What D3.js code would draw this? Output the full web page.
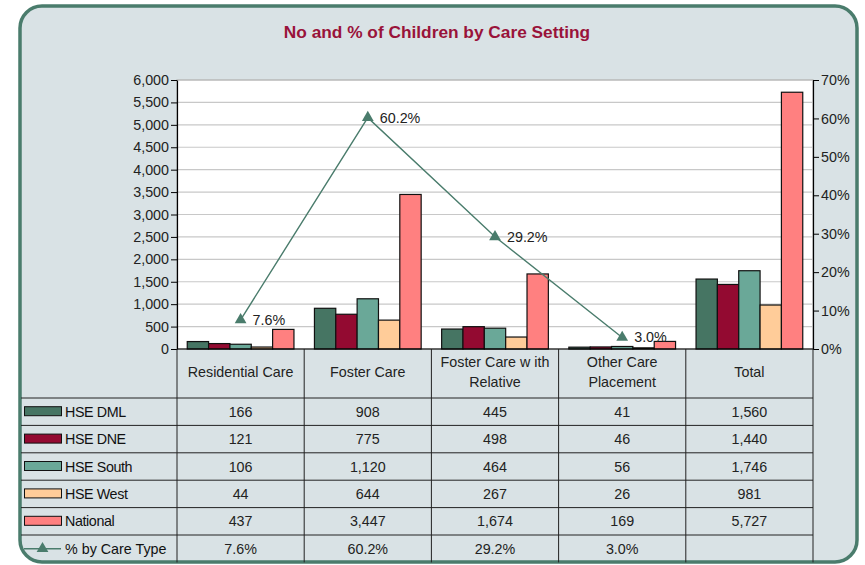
<!DOCTYPE html>
<html>
<head>
<meta charset="utf-8">
<script src="https://cdn.jsdelivr.net/npm/d3@7"></script>
<style>
  body { margin: 0; background: #ffffff; }
  svg { display: block; font-family: "Liberation Sans", Arial, sans-serif; }
</style>
</head>
<body>
<div id="chart"></div>
<script>
// chart data
const categories = ['Residential Care', 'Foster Care', 'Foster Care with Relative', 'Other Care Placement', 'Total'];
const headerLines = [['Residential Care'], ['Foster Care'], ['Foster Care w ith', 'Relative'], ['Other Care', 'Placement'], ['Total']];
const seriesNames = ['HSE DML', 'HSE DNE', 'HSE South', 'HSE West', 'National'];
const hseDML = [166, 908, 445, 41, 1560];
const hseDNE = [121, 775, 498, 46, 1440];
const hseSouth = [106, 1120, 464, 56, 1746];
const hseWest = [44, 644, 267, 26, 981];
const national = [437, 3447, 1674, 169, 5727];
const pctByType = [7.6, 60.2, 29.2, 3.0, null];
const leftTicks = [0, 500, 1000, 1500, 2000, 2500, 3000, 3500, 4000, 4500, 5000, 5500, 6000];
const rightTicks = [0, 10, 20, 30, 40, 50, 60, 70];
const lineName = '% by Care Type';

const seriesValues = [hseDML, hseDNE, hseSouth, hseWest, national];
const colors = ['#467563', '#930a31', '#6aa898', '#ffcc99', '#ff8080'];
const lineColor = '#4a7c6c';
const fs = '14.3px';

const W = 865, H = 565;
const plot = {left: 177, right: 813, top: 80, bottom: 349};
const rowH = 27.4;
const tableTop = 398;

const svg = d3.select('#chart').append('svg')
    .attr('width', W)
    .attr('height', H);

// background panel with rounded border
svg.append('rect')
    .attr('x', 20).attr('y', 6)
    .attr('width', 837).attr('height', 556)
    .attr('rx', 22).attr('ry', 22)
    .attr('fill', '#d9e2e5')
    .attr('stroke', lineColor)
    .attr('stroke-width', 3.5);

// title
svg.append('text')
    .attr('x', 437).attr('y', 38)
    .attr('text-anchor', 'middle')
    .attr('font-size', '17.3px')
    .attr('font-weight', 'bold')
    .attr('fill', '#99133a')
    .text('No and % of Children by Care Setting');

// scales
const x = d3.scaleBand()
    .domain(categories)
    .range([plot.left, plot.right]);
const xs = d3.scaleBand()
    .domain(seriesNames)
    .range([0, x.bandwidth()])
    .paddingOuter(0.48)
    .paddingInner(0);
const y = d3.scaleLinear().domain([0, 6000]).range([plot.bottom, plot.top]);
const y2 = d3.scaleLinear().domain([0, 70]).range([plot.bottom, plot.top]);

// plot area
svg.append('rect')
    .attr('x', plot.left).attr('y', plot.top)
    .attr('width', plot.right - plot.left)
    .attr('height', plot.bottom - plot.top)
    .attr('fill', '#ffffff')
    .attr('stroke', '#999')
    .attr('stroke-width', 1);

// gridlines
svg.append('g')
    .selectAll('line')
    .data(leftTicks.slice(1))
  .enter().append('line')
    .attr('x1', plot.left).attr('x2', plot.right)
    .attr('y1', d => y(d)).attr('y2', d => y(d))
    .attr('stroke', '#c8c8c8')
    .attr('stroke-width', 1.2);

// axes
const fmt = d3.format(',');
const leftAxis = svg.append('g')
    .attr('transform', 'translate(' + plot.left + ',0)')
    .call(d3.axisLeft(y).tickValues(leftTicks).tickFormat(fmt).tickSize(6).tickSizeOuter(0));
const rightAxis = svg.append('g')
    .attr('transform', 'translate(' + plot.right + ',0)')
    .call(d3.axisRight(y2).tickValues(rightTicks).tickFormat(d => d + '%').tickSize(6).tickSizeOuter(0));
[leftAxis, rightAxis].forEach(a => {
  a.select('.domain').attr('stroke', '#000').attr('stroke-width', 1.2);
  a.selectAll('.tick line').attr('stroke', '#000');
  a.selectAll('.tick text')
      .attr('font-family', '"Liberation Sans", Arial, sans-serif')
      .attr('font-size', fs)
      .attr('fill', '#222');
});
leftAxis.selectAll('.tick text').attr('x', -8);
rightAxis.selectAll('.tick text').attr('x', 8);

// bars
seriesNames.forEach((name, si) => {
  svg.append('g')
    .selectAll('rect')
    .data(categories)
  .enter().append('rect')
    .attr('x', d => x(d) + xs(name))
    .attr('width', xs.bandwidth())
    .attr('y', (d, i) => y(seriesValues[si][i]))
    .attr('height', (d, i) => plot.bottom - y(seriesValues[si][i]))
    .attr('fill', colors[si])
    .attr('stroke', '#111')
    .attr('stroke-width', 1.2);
});

// x axis line
svg.append('line')
    .attr('x1', plot.left).attr('x2', plot.right)
    .attr('y1', plot.bottom).attr('y2', plot.bottom)
    .attr('stroke', '#000').attr('stroke-width', 1.2);

// percentage line
const pts = categories.map((c, i) => ({c: c, v: pctByType[i]})).filter(d => d.v !== null);
svg.append('path')
    .datum(pts)
    .attr('fill', 'none')
    .attr('stroke', lineColor)
    .attr('stroke-width', 1.4)
    .attr('d', d3.line().x(d => x(d.c) + x.bandwidth() / 2).y(d => y2(d.v)));
const tri = d3.symbol().type(d3.symbolTriangle).size(60);
svg.selectAll('.marker')
    .data(pts)
  .enter().append('path')
    .attr('class', 'marker')
    .attr('d', tri)
    .attr('transform', d => 'translate(' + (x(d.c) + x.bandwidth() / 2) + ',' + y2(d.v) + ')')
    .attr('fill', lineColor);
svg.selectAll('.plabel')
    .data(pts)
  .enter().append('text')
    .attr('x', d => x(d.c) + x.bandwidth() / 2 + 12)
    .attr('y', d => y2(d.v) + 5)
    .attr('font-size', fs)
    .attr('fill', '#222')
    .text(d => d.v.toFixed(1) + '%');

// data table
const table = svg.append('g');
const rowLabels = seriesNames.concat([lineName]);
const rowData = seriesValues.map(arr => arr.map(v => fmt(v)))
    .concat([pctByType.map(v => v === null ? '' : v.toFixed(1) + '%')]);

// header cells
categories.forEach((c, i) => {
  const lines = headerLines[i];
  const cx = x(c) + x.bandwidth() / 2;
  const cy = (plot.bottom + tableTop) / 2;
  lines.forEach((t, li) => {
    table.append('text')
      .attr('x', cx)
      .attr('y', cy + 3 + (li - (lines.length - 1) / 2) * 20)
      .attr('text-anchor', 'middle')
      .attr('font-size', fs)
      .attr('fill', '#222')
      .text(t);
  });
});

// row lines
d3.range(rowLabels.length).forEach(r => {
  table.append('line')
    .attr('x1', 21).attr('x2', plot.right)
    .attr('y1', tableTop + r * rowH).attr('y2', tableTop + r * rowH)
    .attr('stroke', '#222').attr('stroke-width', 1);
});
// column lines
const colEdges = categories.map(c => x(c)).concat([plot.right]);
colEdges.forEach(cx => {
  table.append('line')
    .attr('x1', cx).attr('x2', cx)
    .attr('y1', plot.bottom).attr('y2', tableTop + rowLabels.length * rowH)
    .attr('stroke', '#222').attr('stroke-width', 1);
});

// row cells
rowLabels.forEach((label, r) => {
  const cy = tableTop + r * rowH + rowH / 2;
  if (r < seriesNames.length) {
    table.append('rect')
      .attr('x', 24.5).attr('y', cy - 5)
      .attr('width', 37).attr('height', 9)
      .attr('fill', colors[r])
      .attr('stroke', '#111').attr('stroke-width', 1);
  } else {
    table.append('line')
      .attr('x1', 24).attr('x2', 61)
      .attr('y1', cy).attr('y2', cy)
      .attr('stroke', lineColor).attr('stroke-width', 1.4);
    table.append('path')
      .attr('d', tri)
      .attr('transform', 'translate(42.5,' + cy + ')')
      .attr('fill', lineColor);
  }
  table.append('text')
    .attr('x', 65).attr('y', cy + 5)
    .attr('font-size', fs)
    .attr('fill', '#111')
    .attr('letter-spacing', r < seriesNames.length ? '-0.4px' : '0')
    .text(label);
  categories.forEach((c, i) => {
    table.append('text')
      .attr('x', x(c) + x.bandwidth() / 2)
      .attr('y', cy + 5)
      .attr('text-anchor', 'middle')
      .attr('font-size', fs)
      .attr('fill', '#222')
      .text(rowData[r][i]);
  });
});
</script>
</body>
</html>
